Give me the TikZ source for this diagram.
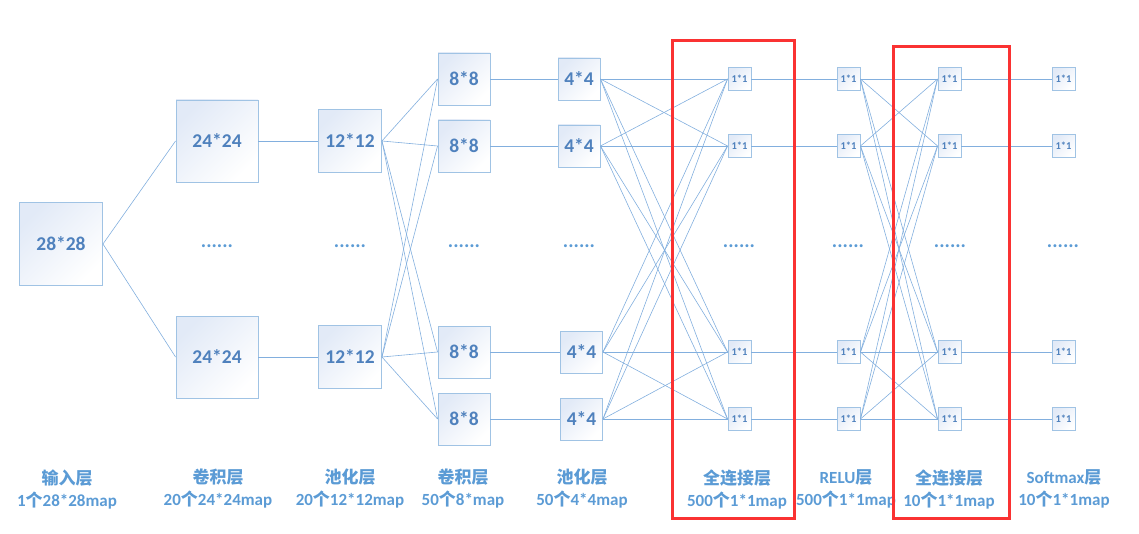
\documentclass[tikz,border=0pt]{standalone}
\usepackage{fontspec}
\setmainfont{Carlito}
\newfontfamily\cjk{Noto Sans CJK SC}
\usetikzlibrary{positioning}
\definecolor{boxline}{RGB}{160,195,228}
\definecolor{boxfill}{RGB}{226,234,247}
\definecolor{boxtext}{RGB}{79,129,189}
\definecolor{wirecol}{RGB}{130,175,222}
\definecolor{labtext}{RGB}{91,155,213}
\definecolor{framered}{RGB}{250,50,50}

\begin{document}
\begin{tikzpicture}[
    x=1pt, y=-1pt,
    map/.style={draw=boxline, line width=0.9pt, top color=boxfill, bottom color=white,
                shading angle=45, inner sep=0pt, text=boxtext,
                font=\fontsize{19.5}{21}\selectfont\bfseries},
    unit/.style={map, minimum size=23pt, font=\fontsize{10.5}{11}\selectfont\bfseries},
    dots/.style={text=labtext, anchor=base, font=\fontsize{20}{21}\selectfont\bfseries},
    wire/.style={draw=wirecol, line width=0.6pt},
    lab/.style={text=labtext, align=center, font=\fontsize{17}{22}\selectfont\bfseries},
    redframe/.style={draw=framered, line width=3pt},
]
  \useasboundingbox (0,0) rectangle (1139,534);

  % feature maps
  \node[map, minimum size=83pt] (inp) at (61,244) {28*28};
  \node[map, minimum size=82pt] (cva) at (217,141) {24*24};
  \node[map, minimum size=82pt] (cvb) at (217,357) {24*24};
  \node[map, minimum size=63pt] (pla) at (350,141) {12*12};
  \node[map, minimum size=63pt] (plb) at (350,357) {12*12};
  \foreach \i/\y in {1/79, 2/146, 3/352, 4/419}
    \node[map, minimum size=52pt] (cv\i) at (464,\y) {8*8};
  \foreach \i/\x/\y in {1/579/79, 2/579/146, 3/581.5/352, 4/581.5/419}
    \node[map, minimum size=42pt] (pc\i) at (\x,\y) {4*4};

  % 1*1 units
  \foreach \i/\y in {1/79, 2/146, 3/352, 4/419} {
    \node[unit] (fa\i) at (739.5,\y) {1*1};
    \node[unit] (rl\i) at (848.5,\y) {1*1};
    \node[unit] (fb\i) at (949.5,\y) {1*1};
    \node[unit] (sm\i) at (1063.5,\y) {1*1};
  }

  % ellipsis rows
  \foreach \x [count=\k] in {217, 350, 464, 579, 739, 848, 950, 1063}
    \node[dots] (dot\k) at (\x,248) {......};

  % connections
  \draw[wire] (inp.east) -- (cva.west);
  \draw[wire] (inp.east) -- (cvb.west);
  \draw[wire] (cva) -- (pla);
  \draw[wire] (cvb) -- (plb);
  \foreach \a in {pla, plb}
    \foreach \j in {1,...,4}
      \draw[wire] (\a.east) -- (cv\j.west);
  \foreach \i in {1,...,4} {
    \draw[wire] (cv\i) -- (pc\i);
    \draw[wire] (fa\i) -- (rl\i);
    \draw[wire] (fb\i) -- (sm\i);
    \foreach \j in {1,...,4} {
      \draw[wire] (pc\i.east) -- (fa\j.west);
      \draw[wire] (rl\i.east) -- (fb\j.west);
    }
  }

  % layer captions
  \node[lab] (labin) at (67,489) {{\cjk 输入层}\\1{\cjk 个}28*28map};
  \node[lab] (labcva) at (218,489) {{\cjk 卷积层}\\20{\cjk 个}24*24map};
  \node[lab] (labpla) at (350,489) {{\cjk 池化层}\\20{\cjk 个}12*12map};
  \node[lab] (labcvb) at (463,489) {{\cjk 卷积层}\\50{\cjk 个}8*map};
  \node[lab] (labplb) at (582,489) {{\cjk 池化层}\\50{\cjk 个}4*4map};
  \node[lab] (labfa) at (737,489) {{\cjk 全连接层}\\500{\cjk 个}1*1map};
  \node[lab] (labrl) at (846,489) {RELU{\cjk 层}\\500{\cjk 个}1*1map};
  \node[lab] (labfb) at (949,489) {{\cjk 全连接层}\\10{\cjk 个}1*1map};
  \node[lab] (labsm) at (1064,489) {Softmax{\cjk 层}\\10{\cjk 个}1*1map};

  % highlighted fully connected layers
  \draw[redframe] (672,41) rectangle (794,518);
  \draw[redframe] (893,47) rectangle (1009,518);
\end{tikzpicture}
\end{document}
